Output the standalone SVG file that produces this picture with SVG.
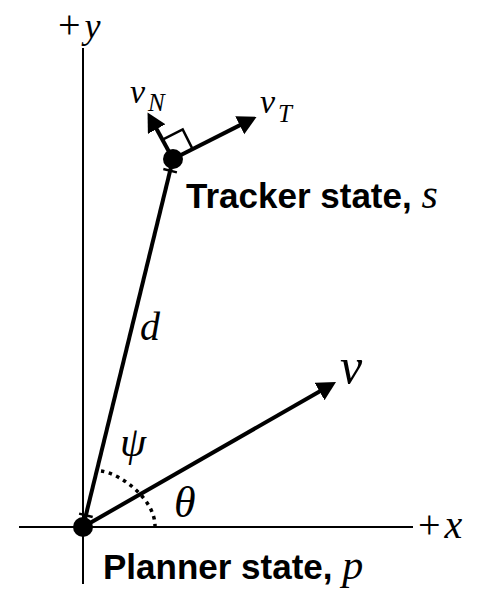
<svg xmlns="http://www.w3.org/2000/svg" width="490" height="611" viewBox="0 0 490 611">
<defs>
<style>
.axis{stroke:#000;stroke-width:2;fill:none}
.vec{stroke:#000;stroke-width:4;fill:none}
.thin{stroke:#000;stroke-width:2.5;fill:none}
.dot{fill:#000}
.math{font-family:"Liberation Serif","DejaVu Serif",serif;font-style:italic;fill:#000}
.up{font-style:normal;font-size:40px}
.lbl{font-family:"Liberation Sans",Arial,sans-serif;font-weight:bold;font-size:35px;fill:#000}
</style>
<marker id="ah" markerUnits="userSpaceOnUse" markerWidth="22" markerHeight="22" viewBox="0 0 22 22" refX="7" refY="10" orient="auto">
<path d="M0,0 L19,10 L0,20 z" fill="#000"/>
</marker>
</defs>
<rect width="490" height="611" fill="#fff"/>
<g id="axes">
<line class="axis" x1="83" y1="48" x2="83" y2="584"/>
<line class="axis" x1="19" y1="527" x2="413" y2="527"/>
<text class="math" x="58" y="38" font-size="36"><tspan class="up">+</tspan><tspan dx="4">y</tspan></text>
<text class="math" x="418" y="538" font-size="40"><tspan class="up">+</tspan><tspan dx="4">x</tspan></text>
</g>
<g id="connectors">
<line class="vec" x1="83" y1="527" x2="173" y2="159"/>
<line class="thin" x1="79.1" y1="513.6" x2="92.7" y2="517.0"/>
<line class="thin" x1="163.3" y1="169.0" x2="176.9" y2="172.4"/>
<line class="vec" x1="83" y1="527" x2="325.6" y2="388.0" marker-end="url(#ah)"/>
<line class="vec" x1="173" y1="159" x2="246" y2="122.1" marker-end="url(#ah)"/>
<line class="vec" x1="173" y1="159" x2="153.3" y2="123.0" marker-end="url(#ah)"/>
<path class="thin" d="M163.1,139.4 L182.7,129.5 L192.6,149.1"/>
<path d="M101,471 C122,474 155,500 155,526" fill="none" stroke="#000" stroke-width="3.5" stroke-dasharray="3.5 4.5"/>
<text class="math" x="140" y="340" font-size="40">d</text>
<text class="math" x="340" y="383" font-size="50">v</text>
<text class="math" x="120" y="456" font-size="42">ψ</text>
<text class="math" x="174" y="517" font-size="44">θ</text>
<text class="math" x="130" y="103" font-size="34">v</text>
<text class="math" x="148" y="111" font-size="25">N</text>
<text class="math" x="260" y="113" font-size="34">v</text>
<text class="math" x="278" y="122" font-size="25">T</text>
</g>
<g id="tracker">
<circle class="dot" cx="173" cy="159" r="10"/>
<text class="lbl" x="186" y="208">Tracker state, <tspan class="math" font-weight="normal" font-size="42">s</tspan></text>
</g>
<g id="planner">
<circle class="dot" cx="83" cy="527" r="10"/>
<text class="lbl" x="103" y="579">Planner state, <tspan class="math" font-weight="normal" font-size="42">p</tspan></text>
</g>
</svg>
